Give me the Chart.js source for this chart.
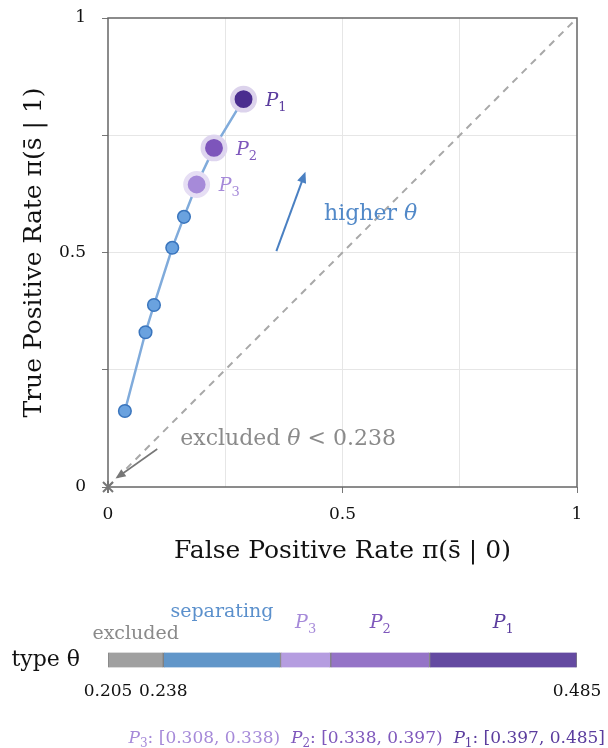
<!DOCTYPE html>
<html>
<head>
<meta charset="utf-8">
<script src="https://cdn.jsdelivr.net/npm/chart.js@4/dist/chart.umd.min.js"></script>
<style>
  body { margin: 0; background: #fff; }
  #wrap { position: relative; width: 608px; height: 748px; }
  #roc { position: absolute; left: 0; top: 0; }
  #bar { position: absolute; left: 0; top: 590px; }
</style>
</head>
<body>
<div id="wrap">
  <canvas id="roc" width="608" height="590" style="width:608px;height:590px"></canvas>
  <canvas id="bar" width="608" height="158" style="width:608px;height:158px"></canvas>
</div>
<script>
// valeurs
const fpr = [0.036, 0.080, 0.098, 0.137, 0.162, 0.189, 0.226, 0.289];
const tpr = [0.162, 0.330, 0.388, 0.510, 0.576, 0.645, 0.723, 0.827];
const poolNames = ['1', '2', '3'];
const poolFpr = [0.289, 0.226, 0.189];
const poolTpr = [0.827, 0.723, 0.645];
const axisTicks = [0, 0.5, 1];
const typeBreaks = [0.205, 0.238, 0.308, 0.338, 0.397, 0.485];
const typeSegments = ['excluded', 'separating', 'P3', 'P2', 'P1'];
const typeTicks = [0.205, 0.238, 0.485];

const SERIF = '"DejaVu Serif", "Liberation Serif", serif';
const poolFill = ['#4a2d8f', '#7d55bb', '#a68ad9'];
const poolHalo = ['#dcd3ec', '#ded5ef', '#e6def4'];
const poolText = ['#5b3d9e', '#7f58bc', '#a68ad9'];
const segColors = ['#a0a0a0', '#6196c9', '#b59de0', '#9574c7', '#644aa1'];
const segText = ['#8a8a8a', '#5b90cc', '#a68ad9', '#7f58bc', '#5b3d9e'];

function f(size, italic) {
  return (italic ? 'italic ' : '') + size + 'px ' + SERIF;
}

function drawRuns(ctx, parts, x, y, align) {
  let w = 0;
  parts.forEach(p => { ctx.font = p.font; w += ctx.measureText(p.text).width; });
  let cx = align === 'center' ? x - w / 2 : align === 'right' ? x - w : x;
  parts.forEach(p => {
    ctx.font = p.font;
    ctx.fillStyle = p.color;
    ctx.textAlign = 'left';
    ctx.textBaseline = 'alphabetic';
    ctx.fillText(p.text, cx, y + (p.dy || 0));
    cx += ctx.measureText(p.text).width;
  });
  return w;
}

function arrow(ctx, x0, y0, x1, y1, color, lw, head) {
  const ang = Math.atan2(y1 - y0, x1 - x0);
  ctx.strokeStyle = color;
  ctx.fillStyle = color;
  ctx.lineWidth = lw;
  ctx.beginPath();
  ctx.moveTo(x0, y0);
  ctx.lineTo(x1 - Math.cos(ang) * head * 0.8, y1 - Math.sin(ang) * head * 0.8);
  ctx.stroke();
  ctx.beginPath();
  ctx.moveTo(x1, y1);
  ctx.lineTo(x1 - head * Math.cos(ang - 0.4), y1 - head * Math.sin(ang - 0.4));
  ctx.lineTo(x1 - head * Math.cos(ang + 0.4), y1 - head * Math.sin(ang + 0.4));
  ctx.closePath();
  ctx.fill();
}

// cadre, annotations et étiquettes P
const rocDecor = {
  id: 'rocDecor',
  afterDatasetsDraw(chart) {
    const { ctx, chartArea: a, scales: { x, y } } = chart;
    ctx.save();
    ctx.strokeStyle = '#666';
    ctx.lineWidth = 1.5;
    ctx.strokeRect(a.left, a.top, a.right - a.left, a.bottom - a.top);

    // flèche "higher θ"
    arrow(ctx, x.getPixelForValue(0.359), y.getPixelForValue(0.503),
      x.getPixelForValue(0.421), y.getPixelForValue(0.672), '#4a80c2', 2, 12);
    drawRuns(ctx, [
      { text: 'higher ', font: f(22), color: '#5289c8' },
      { text: 'θ', font: f(22, true), color: '#5289c8' }
    ], x.getPixelForValue(0.56), y.getPixelForValue(0.569), 'center');

    // exclus
    arrow(ctx, x.getPixelForValue(0.105), y.getPixelForValue(0.081),
      x.getPixelForValue(0.016), y.getPixelForValue(0.018), '#777', 1.6, 11);
    drawRuns(ctx, [
      { text: 'excluded ', font: f(22), color: '#8a8a8a' },
      { text: 'θ', font: f(22, true), color: '#8a8a8a' },
      { text: ' < 0.238', font: f(22), color: '#8a8a8a' }
    ], x.getPixelForValue(0.154), y.getPixelForValue(0.09), 'left');
    const ox = x.getPixelForValue(0), oy = y.getPixelForValue(0);
    ctx.strokeStyle = '#777';
    ctx.lineWidth = 2;
    ctx.beginPath();
    ctx.moveTo(ox - 5, oy - 5); ctx.lineTo(ox + 5, oy + 5);
    ctx.moveTo(ox + 5, oy - 5); ctx.lineTo(ox - 5, oy + 5);
    ctx.moveTo(ox, oy - 6); ctx.lineTo(ox, oy + 6);
    ctx.stroke();

    // P1, P2, P3
    const meta = chart.getDatasetMeta(2);
    meta.data.forEach((pt, i) => {
      drawRuns(ctx, [
        { text: 'P', font: f(19, true), color: poolText[i] },
        { text: poolNames[i], font: f(13), color: poolText[i], dy: 5 }
      ], pt.x + 22, pt.y + 7, 'left');
    });
    ctx.restore();
  }
};

new Chart(document.getElementById('roc'), {
  type: 'scatter',
  data: {
    datasets: [
      {
        data: [{ x: 0, y: 0 }, { x: 1, y: 1 }],
        showLine: true,
        borderColor: '#a8a8a8',
        borderWidth: 2,
        borderDash: [7, 6],
        pointRadius: 0,
        order: 3
      },
      {
        data: fpr.map((v, i) => ({ x: v, y: tpr[i] })),
        showLine: true,
        borderColor: '#80abdb',
        borderWidth: 2.5,
        backgroundColor: '#6aa2df',
        pointBorderColor: '#3a75bd',
        pointBorderWidth: 1.5,
        pointRadius: c => poolFpr.includes(fpr[c.dataIndex]) ? 0 : 6.3,
        order: 2
      },
      {
        data: poolFpr.map((v, i) => ({ x: v, y: poolTpr[i] })),
        pointBackgroundColor: poolFill,
        pointBorderColor: poolHalo,
        pointBorderWidth: 4.5,
        pointRadius: 11.2,
        order: 1
      }
    ]
  },
  options: {
    responsive: false,
    animation: false,
    layout: { padding: { top: 18, right: 31, left: 0, bottom: 0 } },
    plugins: { legend: { display: false }, tooltip: { enabled: false } },
    scales: {
      x: {
        type: 'linear', min: 0, max: 1,
        afterFit: s => { s.height = 103; s.paddingLeft = 0; s.paddingRight = 0; },
        border: { display: false },
        grid: {
          color: c => (c.tick && (c.tick.value === 0 || c.tick.value === 1)) ? 'rgba(0,0,0,0)' : '#e6e6e6',
          tickLength: 6,
          tickColor: c => axisTicks.includes(c.tick.value) ? '#777' : 'rgba(0,0,0,0)'
        },
        ticks: {
          stepSize: 0.25, autoSkip: false, maxRotation: 0,
          callback: v => axisTicks.includes(v) ? String(v) : '',
          font: { family: SERIF, size: 17 }, color: '#111', padding: 11
        },
        title: {
          display: true, text: 'False Positive Rate π(s̄ | 0)',
          font: { family: SERIF, size: 25 }, color: '#111',
          padding: { top: 0, bottom: 24 }
        }
      },
      y: {
        type: 'linear', min: 0, max: 1,
        afterFit: s => { s.width = 108; s.paddingTop = 0; s.paddingBottom = 0; },
        border: { display: false },
        grid: {
          color: c => (c.tick && (c.tick.value === 0 || c.tick.value === 1)) ? 'rgba(0,0,0,0)' : '#e6e6e6',
          tickLength: 6,
          tickColor: '#777'
        },
        ticks: {
          stepSize: 0.25, autoSkip: false,
          callback: v => axisTicks.includes(v) ? String(v) : '',
          font: { family: SERIF, size: 17 }, color: '#111', padding: 16
        },
        title: {
          display: true, text: 'True Positive Rate π(s̄ | 1)',
          font: { family: SERIF, size: 25 }, color: '#111',
          padding: { top: 19, bottom: 0 }
        }
      }
    }
  },
  plugins: [rocDecor]
});

// barre des types
const segLevel = [49, 27, 38, 38, 38];
const barDecor = {
  id: 'barDecor',
  afterDatasetsDraw(chart) {
    const { ctx, scales: { x } } = chart;
    ctx.save();
    typeSegments.forEach((name, i) => {
      const cx = x.getPixelForValue((typeBreaks[i] + typeBreaks[i + 1]) / 2);
      if (name.startsWith('P')) {
        drawRuns(ctx, [
          { text: 'P', font: f(19, true), color: segText[i] },
          { text: name.slice(1), font: f(13), color: segText[i], dy: 5 }
        ], cx, segLevel[i], 'center');
      } else {
        drawRuns(ctx, [{ text: name, font: f(19), color: segText[i] }], cx, segLevel[i], 'center');
      }
    });
    // intervalles des pools
    const parts = [];
    [2, 3, 4].forEach((k, j) => {
      const c = segText[k];
      const lo = typeBreaks[k].toFixed(3), hi = typeBreaks[k + 1].toFixed(3);
      parts.push({ text: 'P', font: f(17, true), color: c });
      parts.push({ text: typeSegments[k].slice(1), font: f(12), color: c, dy: 4 });
      parts.push({ text: ': [' + lo + ', ' + hi + (k === 4 ? ']' : ')') + (j < 2 ? '  ' : ''), font: f(17), color: c });
    });
    drawRuns(ctx, parts, 605, 153, 'right');
    ctx.restore();
  }
};

new Chart(document.getElementById('bar'), {
  type: 'bar',
  data: {
    labels: ['type θ'],
    datasets: typeSegments.map((name, i) => ({
      label: name,
      data: [[typeBreaks[i], typeBreaks[i + 1]]],
      backgroundColor: segColors[i],
      borderColor: '#808080',
      borderWidth: { left: 1, right: 1, top: 0, bottom: 0 },
      borderSkipped: false,
      barThickness: 15,
      grouped: false
    }))
  },
  options: {
    indexAxis: 'y',
    responsive: false,
    animation: false,
    layout: { padding: { top: 62, right: 31, left: 0, bottom: 0 } },
    plugins: { legend: { display: false }, tooltip: { enabled: false } },
    scales: {
      x: {
        type: 'linear', min: 0.205, max: 0.485,
        afterBuildTicks: s => { s.ticks = typeTicks.map(v => ({ value: v })); },
        afterFit: s => { s.height = 80; s.paddingLeft = 0; s.paddingRight = 0; },
        border: { display: false },
        grid: { display: false, drawTicks: false },
        ticks: {
          autoSkip: false, maxRotation: 0,
          callback: v => v.toFixed(3),
          font: { family: SERIF, size: 17 }, color: '#111', padding: 13
        }
      },
      y: {
        afterFit: s => { s.width = 108; },
        border: { display: false },
        grid: { display: false, drawTicks: false },
        ticks: { font: { family: SERIF, size: 22 }, color: '#111', padding: 28 }
      }
    }
  },
  plugins: [barDecor]
});
</script>
</body>
</html>
